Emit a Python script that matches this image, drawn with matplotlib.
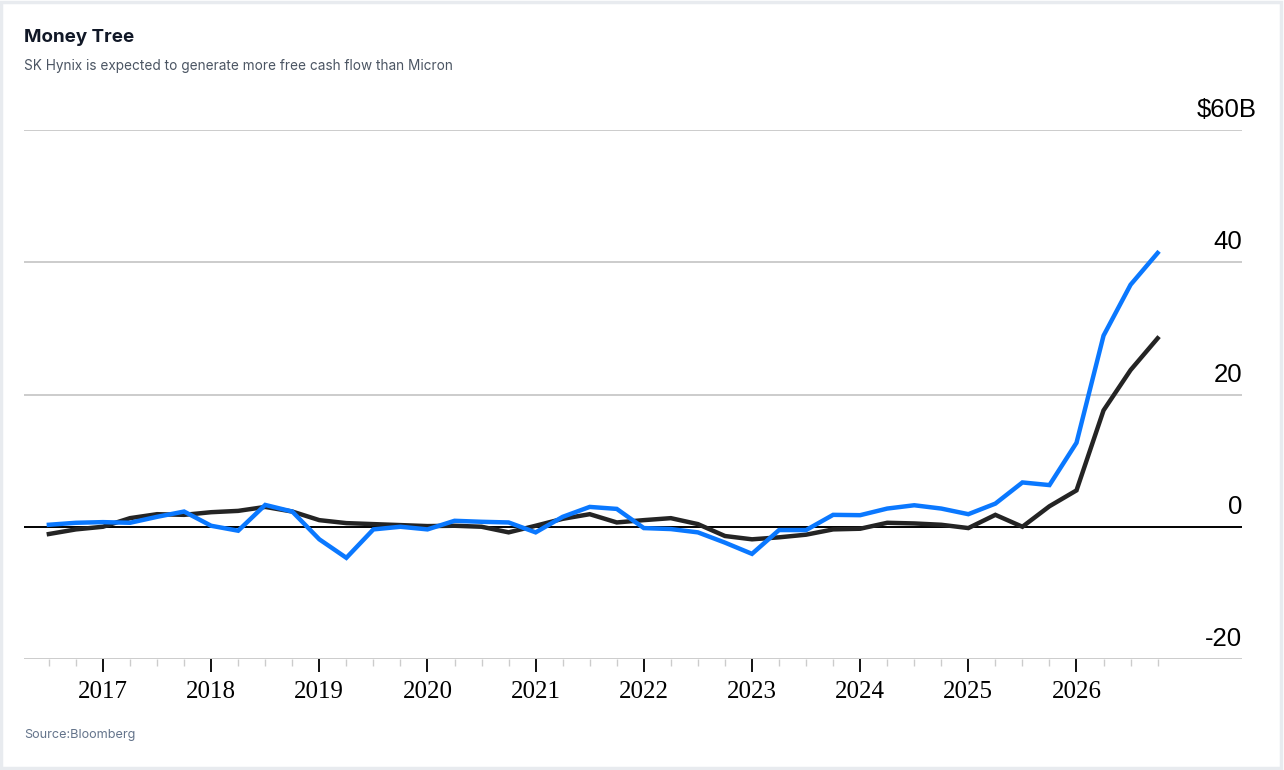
import matplotlib
matplotlib.use("Agg")
import matplotlib.pyplot as plt
from matplotlib.patches import Rectangle
import numpy as np

# quarterly points, 2016 Q3 .. 2026 Q4 (as decimal years)
quarters = [2016.5 + 0.25 * i for i in range(42)]

# free cash flow, $B
sk_hynix = [0.3, 0.6, 0.7, 0.6, 1.5, 2.3, 0.15, -0.6, 3.3, 2.3,
            -1.9, -4.7, -0.4, 0.0, -0.4, 0.9, 0.75, 0.65, -0.85, 1.5,
            3.0, 2.7, -0.2, -0.35, -0.85, -2.4, -4.1, -0.5, -0.5, 1.8,
            1.75, 2.75, 3.25, 2.75, 1.9, 3.5, 6.7, 6.3, 12.7, 28.9,
            36.6, 41.4]
micron = [-1.1, -0.4, 0.0, 1.3, 1.9, 1.8, 2.2, 2.4, 3.0, 2.3,
          1.0, 0.55, 0.4, 0.25, 0.1, 0.15, 0.0, -0.85, 0.15, 1.2,
          1.9, 0.65, 1.0, 1.3, 0.4, -1.4, -1.9, -1.6, -1.2, -0.4,
          -0.3, 0.6, 0.5, 0.3, -0.2, 1.8, 0.0, 3.1, 5.5, 17.6,
          23.7, 28.5]

years = list(range(2017, 2027))
y_ticks = [-20, 0, 20, 40, 60]
y_labels = ["-20", "0", "20", "40", "$60B"]

fig = plt.figure(figsize=(12.84, 7.70), dpi=100)
ax = fig.add_axes([24 / 1284, 1 - 659 / 770, (1242 - 24) / 1284, (659 - 130) / 770])

# light frame round the card
fig.patches.append(Rectangle((0.001, 0.002), 0.997, 0.995, transform=fig.transFigure,
                             fill=False, edgecolor="#e8ebef", linewidth=2.5))

# gridlines
for v in y_ticks:
    if v == 0:
        ax.axhline(v, color="black", linewidth=1.4, zorder=2)
    else:
        ax.axhline(v, color="#cccccc", linewidth=1.4, zorder=1)

ax.plot(quarters, micron, color="#242424", linewidth=3.2, label="Micron",
        solid_joinstyle="miter", zorder=3)
ax.plot(quarters, sk_hynix, color="#0a78ff", linewidth=3.2, label="SK Hynix",
        solid_joinstyle="miter", zorder=4)

ax.set_xlim(2016.27, 2027.53)
ax.set_ylim(-20, 60)

for s in ax.spines.values():
    s.set_visible(False)

# y labels sit above their gridlines on the right; the "$" and "B" of the
# top label hang out so its digits line up with the others
ax.set_yticks([])
for v, lab in zip(y_ticks, y_labels):
    dx = 10.5 if lab.endswith("B") else 0
    ax.annotate(lab, xy=(1.0, v), xycoords=("axes fraction", "data"),
                xytext=(dx, 9.2), textcoords="offset points",
                ha="right", va="baseline", fontsize=18.5,
                family="Liberation Sans", color="black")

ax.set_xticks(years)
ax.set_xticklabels([str(y) for y in years], family="Liberation Serif", fontsize=18)
ax.set_xticks(quarters, minor=True)
ax.tick_params(axis="x", which="major", length=9, width=1.3, color="black", pad=7)
ax.tick_params(axis="x", which="minor", length=5, width=1.0, color="#cccccc")

fig.text(24 / 1284, 1 - 37 / 770, "Money Tree", family="Inter", fontweight="bold",
         fontsize=13.5, color="#111827", va="center")
fig.text(24 / 1284, 1 - 66 / 770, "SK Hynix is expected to generate more free cash flow than Micron",
         family="Inter", fontsize=9.8, color="#4b5563", va="center")
fig.text(24 / 1284, 1 - 735 / 770, "Source:Bloomberg", family="Inter", fontsize=9.1,
         color="#64748b", va="center")

fig.savefig("out.png", dpi=100)
